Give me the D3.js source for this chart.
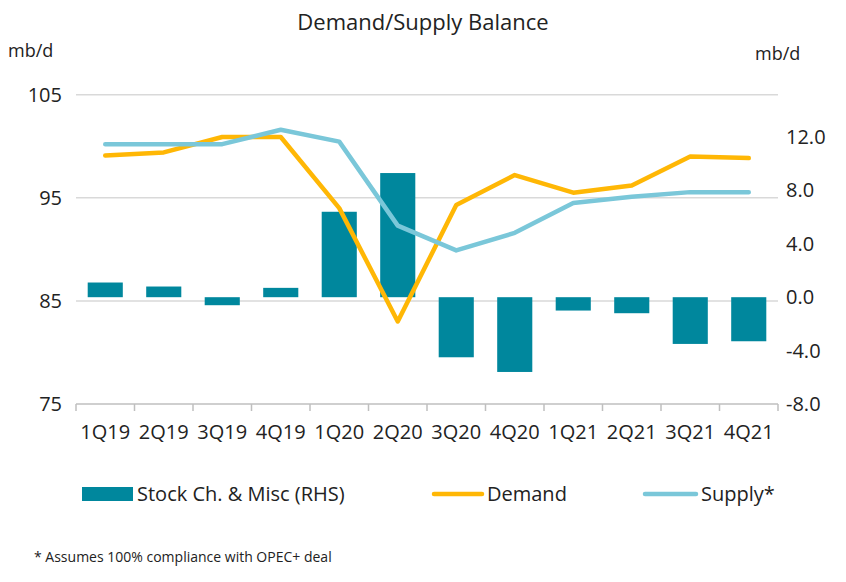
<!DOCTYPE html>
<html lang="en">
<head>
    <meta charset="UTF-8">
    <title>Demand/Supply Balance</title>
    <script src="https://d3js.org/d3.v7.min.js"></script>
    <style>
        body {
            margin: 0;
            background: white;
            font-family: "Open Sans", "Noto Sans", sans-serif;
        }
        svg text {
            fill: #222;
        }
        .grid line {
            stroke: #d9d9d9;
            stroke-width: 1.5;
        }
    </style>
</head>
<body>
    <div id="chart"></div>

    <script>
        // Quarters on the x axis
        const quarters = ['1Q19', '2Q19', '3Q19', '4Q19', '1Q20', '2Q20',
                          '3Q20', '4Q20', '1Q21', '2Q21', '3Q21', '4Q21'];

        // mb/d, left axis
        const demand = [99.1, 99.4, 100.9, 100.9, 94.0, 83.0,
                        94.3, 97.2, 95.5, 96.2, 99.0, 98.85];
        const supply = [100.2, 100.2, 100.2, 101.6, 100.45, 92.3,
                        89.9, 91.6, 94.5, 95.1, 95.55, 95.55];

        // Stock change & misc, right axis
        const stockChange = [1.1, 0.8, -0.6, 0.7, 6.4, 9.3,
                             -4.5, -5.6, -1.0, -1.2, -3.5, -3.3];

        const leftTicks = [75, 85, 95, 105];
        const rightTicks = [-8, -4, 0, 4, 8, 12];

        const width = 846;
        const height = 582;
        const plot = { left: 76, right: 778, top: 94.7, bottom: 404 };
        const labelSize = '20px';

        const svg = d3.select('#chart')
            .append('svg')
            .attr('width', width)
            .attr('height', height);

        const x = d3.scaleBand()
            .domain(quarters)
            .range([plot.left, plot.right])
            .paddingInner(0.4)
            .paddingOuter(0.2);

        // band without padding, for tick marks and line points
        const xCat = d3.scaleBand()
            .domain(quarters)
            .range([plot.left, plot.right]);

        const y = d3.scaleLinear()
            .domain([75, 105])
            .range([plot.bottom, plot.top]);

        // right axis: 13.35 px per unit, 0 sits a little above the 85 gridline
        const y2 = d3.scaleLinear()
            .domain([-8, 12])
            .range([plot.bottom, plot.bottom - 20 * 13.35]);

        // gridlines
        svg.append('g')
            .attr('class', 'grid')
            .selectAll('line')
            .data(leftTicks.slice(1))
            .join('line')
            .attr('x1', plot.left)
            .attr('x2', plot.right)
            .attr('y1', d => y(d))
            .attr('y2', d => y(d));

        // x axis line + tick marks at category edges
        const xAxis = svg.append('g')
            .attr('transform', `translate(0,${plot.bottom})`);
        xAxis.append('line')
            .attr('x1', plot.left).attr('x2', plot.right)
            .attr('stroke', '#bfbfbf').attr('stroke-width', 1.5);
        xAxis.selectAll('.tick-mark')
            .data(quarters.concat(['end']))
            .join('line')
            .attr('class', 'tick-mark')
            .attr('x1', (d, i) => plot.left + i * xCat.step())
            .attr('x2', (d, i) => plot.left + i * xCat.step())
            .attr('y1', 0).attr('y2', 7)
            .attr('stroke', '#bfbfbf').attr('stroke-width', 1.5);

        svg.append('g')
            .selectAll('text')
            .data(quarters)
            .join('text')
            .attr('x', d => xCat(d) + xCat.bandwidth() / 2)
            .attr('y', 439)
            .attr('text-anchor', 'middle')
            .style('font-size', labelSize)
            .text(d => d);

        // left axis labels
        svg.append('g')
            .selectAll('text')
            .data(leftTicks)
            .join('text')
            .attr('x', 62)
            .attr('y', d => y(d) + 7)
            .attr('text-anchor', 'end')
            .style('font-size', labelSize)
            .text(d => d);

        // right axis labels (plain hyphen for negatives, as in the original)
        svg.append('g')
            .selectAll('text')
            .data(rightTicks)
            .join('text')
            .attr('x', 786)
            .attr('y', d => y2(d) + 7)
            .attr('text-anchor', 'start')
            .style('font-size', labelSize)
            .text(d => d.toFixed(1));

        // bars
        svg.append('g')
            .selectAll('rect')
            .data(stockChange)
            .join('rect')
            .attr('x', (d, i) => x(quarters[i]))
            .attr('width', x.bandwidth())
            .attr('y', d => y2(Math.max(0, d)))
            .attr('height', d => Math.abs(y2(d) - y2(0)))
            .attr('fill', '#00879d');

        const line = d3.line()
            .x((d, i) => xCat(quarters[i]) + xCat.bandwidth() / 2)
            .y(d => y(d));

        svg.append('path')
            .datum(demand)
            .attr('d', line)
            .attr('fill', 'none')
            .attr('stroke', '#ffb705')
            .attr('stroke-width', 4.5)
            .attr('stroke-linejoin', 'round')
            .attr('stroke-linecap', 'round');

        svg.append('path')
            .datum(supply)
            .attr('d', line)
            .attr('fill', 'none')
            .attr('stroke', '#7ac7d9')
            .attr('stroke-width', 4.5)
            .attr('stroke-linejoin', 'round')
            .attr('stroke-linecap', 'round');

        // titles
        svg.append('text')
            .attr('x', 423).attr('y', 30)
            .attr('text-anchor', 'middle')
            .style('font-size', '22px')
            .text('Demand/Supply Balance');

        svg.append('text')
            .attr('x', 8).attr('y', 57)
            .style('font-size', '18px')
            .text('mb/d');

        svg.append('text')
            .attr('x', 755).attr('y', 60)
            .style('font-size', '18px')
            .text('mb/d');

        // legend
        const legendY = 494;
        const legend = svg.append('g');
        legend.append('rect')
            .attr('x', 82).attr('y', legendY - 7)
            .attr('width', 51).attr('height', 14)
            .attr('fill', '#00879d');
        legend.append('text')
            .attr('x', 137).attr('y', legendY + 7)
            .style('font-size', labelSize)
            .text('Stock Ch. & Misc (RHS)');

        legend.append('line')
            .attr('x1', 434).attr('x2', 482)
            .attr('y1', legendY).attr('y2', legendY)
            .attr('stroke', '#ffb705').attr('stroke-width', 4.5)
            .attr('stroke-linecap', 'round');
        legend.append('text')
            .attr('x', 487).attr('y', legendY + 7)
            .style('font-size', labelSize)
            .text('Demand');

        legend.append('line')
            .attr('x1', 645).attr('x2', 696)
            .attr('y1', legendY).attr('y2', legendY)
            .attr('stroke', '#7ac7d9').attr('stroke-width', 4.5)
            .attr('stroke-linecap', 'round');
        legend.append('text')
            .attr('x', 701).attr('y', legendY + 7)
            .style('font-size', labelSize)
            .text('Supply*');

        // footnote
        svg.append('text')
            .attr('x', 34).attr('y', 562)
            .style('font-size', '14px')
            .text('* Assumes 100% compliance with OPEC+ deal');
    </script>
</body>
</html>
